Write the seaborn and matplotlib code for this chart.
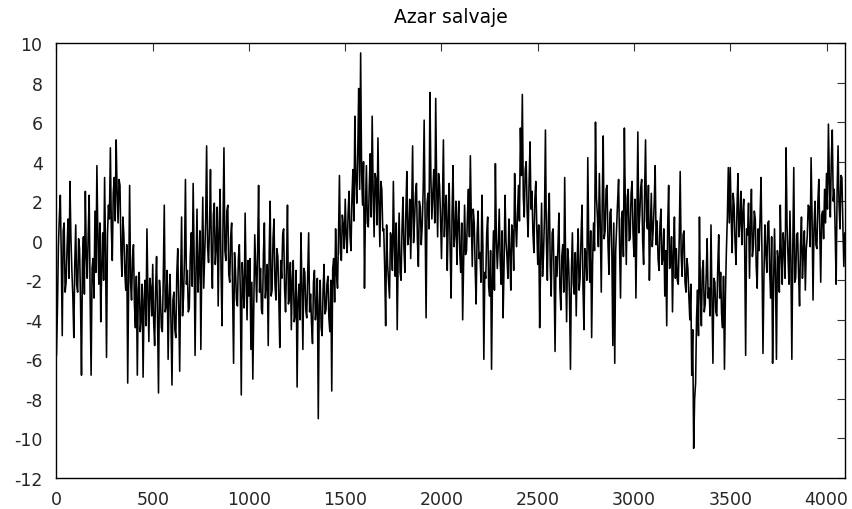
import numpy as np
import pandas as pd
import matplotlib
matplotlib.use("Agg")
import matplotlib.pyplot as plt
import seaborn as sns

title = "Azar salvaje"
x_ticks = [0, 500, 1000, 1500, 2000, 2500, 3000, 3500, 4000]
y_ticks = [-12, -10, -8, -6, -4, -2, 0, 2, 4, 6, 8, 10]
n_samples = 4096

# values, roughly one every 5 samples (one row per 100 samples)
values = [
    -5.8, -3.5, -0.3, 1.2, 2.3, -0.8, -4.8, 0.5, 0.9, -2.6, -2.1, -0.4, 1.1, -1.9, 3.0, 0.2, -1.5, -2.8, -4.9, -1.2,
    0.8, -2.2, -2.6, 0.1, -0.4, -3.1, -6.8, -1.0, 0.2, -2.7, 2.5, -0.8, -1.9, 0.4, 2.3, -3.0, -6.8, -1.4, -0.9, -2.9,
    1.5, -1.6, 3.8, 0.2, -2.2, 0.9, -4.1, -1.3, 0.4, -2.0, 3.2, -0.6, -5.9, 0.3, 1.8, 1.1, 4.7, 0.6, -1.0, 2.4,
    3.2, 1.0, 5.1, 2.5, 0.9, 3.1, 2.8, -0.5, -1.8, 1.2, 0.3, -1.6, -2.5, -0.2, -7.2, -1.9, 2.8, -2.1, -3.0, -0.9,
    -0.2, -3.2, -4.4, -1.8, -6.8, -2.5, -1.6, -4.6, -3.9, -2.2, -6.9, -3.0, -2.0, -4.3, 0.6, -2.7, -5.1, -1.9, -2.4, -3.8,
    -1.2, -4.1, -5.3, -2.4, -0.8, -3.9, -7.7, -2.0, -2.9, -4.4, -4.6, -1.8, 1.8, -3.6, -3.3, -1.5, -6.0, -2.9, -1.7, -4.2,
    -7.3, -3.0, -2.6, -4.5, -4.9, -1.7, -0.4, -3.3, -6.6, -2.1, 1.2, -3.8, -2.8, -0.9, 3.1, -2.2, -1.5, -3.6, -3.4, -0.8,
    0.4, -2.3, 2.9, -0.7, -5.8, -1.5, 1.6, -2.6, -1.3, 0.5, -5.5, -0.9, 2.2, -2.4, -0.6, 1.0, 4.8, -0.3, -1.1, 0.7,
    3.6, -0.8, -2.4, 1.3, 1.9, -1.2, -0.3, 1.7, -3.3, 0.4, 2.6, -1.6, -4.3, 0.8, 4.7, -0.5, -1.0, 1.5, 1.8, -1.7,
    -2.1, 0.2, 0.9, -2.7, -6.2, -0.6, -1.5, -3.0, -3.3, -0.9, -0.2, -2.6, -7.8, -1.1, -2.4, -3.4, 1.4, -1.8, -4.0, -1.0,
    -2.8, -0.9, -5.5, -2.1, -7.0, -3.3, 0.3, -1.4, -3.1, -0.5, 2.8, -2.6, -1.4, -3.5, -3.7, -0.7, 0.9, -2.9, -2.2, -1.2,
    -5.3, -0.6, 2.0, -2.8, -2.5, 0.1, 1.1, -2.2, -3.0, -0.4, -0.8, -2.9, -5.4, -1.0, -1.9, 0.3, 0.6, -2.4, -3.6, -1.3,
    1.8, -3.2, -2.9, -1.1, -4.5, -2.0, -1.0, -4.1, -3.8, -1.5, -7.4, -3.0, -2.2, -4.0, 0.4, -2.3, -5.5, -1.4, -1.6, -3.5,
    -3.9, -1.8, 0.4, -3.6, -2.7, -4.2, -5.2, -2.1, -1.5, -4.0, -3.4, -1.9, -9.0, -3.3, -2.0, -4.4, -4.8, -2.5, -1.2, -3.7,
    -3.5, -2.2, -1.8, -3.9, -4.6, -2.0, -7.6, -1.4, -0.9, -3.1, 0.6, -1.7, -2.4, 0.2, 3.3, -0.6, -1.0, 1.3, 0.8, -0.4,
    2.1, 0.3, -0.6, 1.4, 2.5, 0.2, -0.5, 2.2, 3.6, 1.0, 6.3, 3.1, 1.9, 4.4, 7.7, 2.6, 9.5, 3.5, 1.8, 4.0,
    -2.4, 1.5, 3.8, 0.9, 0.7, 2.8, 4.4, 1.2, 6.3, 2.5, 0.2, 3.4, 3.1, 0.8, 5.2, 1.9, -0.3, 3.0, 2.6, 0.5,
    0.6, -1.4, -4.3, 0.8, -1.2, -2.1, -2.9, 0.4, 0.1, -1.5, 3.0, -0.2, -1.8, 0.9, -4.5, -0.8, 1.4, -1.6, -2.0, 0.6,
    2.2, -0.4, -1.6, 1.5, 3.5, -0.2, 0.3, 2.1, -0.9, 1.4, 4.8, -0.1, 1.0, 2.4, 2.9, 0.0, -1.3, 2.0, 1.7, -0.2,
    0.8, 2.6, 6.1, 1.0, -3.9, 1.9, 2.4, 0.6, 7.5, 3.2, 1.1, 2.4, 3.6, 0.9, 7.2, 2.7, 0.2, 3.4, 2.8, 1.2,
    -0.9, 1.8, 5.1, 0.2, 1.6, 2.3, -1.5, 1.0, 2.9, -0.4, -2.9, 1.4, 3.8, -0.3, 0.4, 2.0, -1.2, 0.9, 2.0, -0.6,
    -1.6, 0.9, -4.0, -1.2, 1.8, -0.7, -0.5, 1.3, 2.6, 0.2, 4.3, 1.0, -1.3, 1.6, 0.9, -1.4, -3.2, 0.3, 1.5, -0.9,
    -0.6, -2.1, 2.3, -0.3, -6.0, -1.6, -1.9, 0.4, 1.2, -2.3, -2.8, -0.5, -6.5, -1.8, 0.5, -2.5, 3.9, 0.1, -1.4, -0.2,
    1.6, -1.0, -2.2, 0.5, -3.9, -1.3, 2.3, 0.0, -0.8, -1.9, 1.1, -0.6, -2.5, 0.8, 0.4, -1.5, 3.4, 0.9, -0.3, 1.4,
    2.8, 1.0, 5.7, 3.3, 7.4, 2.2, 1.2, 3.6, 4.0, 1.5, 0.2, 2.9, 5.0, 1.6, 2.5, 0.4, -0.6, 2.1, 3.0, 0.7,
    -1.2, 0.8, -4.4, -1.0, 1.9, -1.8, -0.7, 1.2, 5.6, 0.0, -2.0, 1.1, 2.4, -1.3, -2.8, 0.4, 0.6, -1.9, -5.6, -0.8,
    -1.8, -0.3, 1.4, -2.4, -3.5, -0.8, -0.2, -2.6, 3.2, -1.2, -4.1, -0.4, -1.0, -2.8, -6.5, -1.5, 0.4, -2.2, -2.7, -0.6,
    -3.8, -1.0, 0.6, -2.5, -1.9, 0.2, 1.8, -2.3, -4.5, -0.4, -0.7, -2.0, 4.2, -0.2, -2.1, 0.5, -4.9, -1.1, 0.9, -0.5,
    6.0, 2.2, 1.2, -0.3, 3.4, 0.8, -2.6, 1.9, 5.3, 0.1, 0.5, 2.6, 2.8, -0.2, -1.7, 1.4, 1.6, -0.6, -5.3, 0.9,
    -6.2, -0.5, 0.8, 2.0, 3.1, -0.2, -2.9, 1.1, 1.5, -0.8, 5.7, 1.8, -1.2, 2.2, 2.6, 0.0, 0.1, 2.4, 3.0, 0.4,
    -0.8, 2.1, -2.9, 0.9, 5.5, 0.4, 1.3, 2.7, 3.1, 0.0, -1.2, 2.3, 5.1, 1.0, 0.6, 2.8, -2.0, 0.6, 2.4, -0.3,
    0.6, 1.9, 3.8, -0.2, 1.0, -0.9, -1.5, 0.8, 1.6, -1.2, -0.9, 0.6, -2.8, -0.5, -4.3, 0.7, 2.8, -1.4, -1.1, 0.2,
    -3.6, -0.6, 1.2, -1.9, -0.4, -2.0, -2.2, 0.1, 3.5, -0.7, -1.8, 0.3, 0.5, -2.1, -2.6, -0.9, -1.4, -2.8, -4.0, -2.2,
    -6.8, -4.5, -10.5, -8.0, -7.2, -3.9, -2.5, -4.8, 1.2, -2.6, -4.3, -1.5, -1.0, -3.6, -3.2, -1.8, 0.1, -2.9, -2.4, -3.8,
    0.8, -3.0, -6.2, -1.9, -2.1, -3.6, -3.8, -1.4, 0.3, -2.9, -1.6, -3.7, -4.4, -1.8, -6.5, -2.7, -0.5, 1.2, 3.7, 0.9,
    3.7, 1.2, -0.6, 2.4, 1.8, -0.1, -1.2, 1.6, 3.4, 0.2, 0.9, 2.5, -0.2, 1.4, 2.1, -0.4, -5.8, 0.6, 0.3, 1.9,
    -1.9, 0.7, 2.6, -0.8, -0.3, 1.5, 1.1, -1.3, -2.4, 0.6, -0.5, 1.2, 3.2, -0.9, -5.7, -1.8, 0.8, -0.6, -1.6, 0.9,
    1.0, -1.6, -2.9, 0.2, -6.2, -2.3, 0.6, -1.8, -6.0, -0.5, -1.1, -2.6, 1.8, -0.7, -2.2, 0.4, -0.4, -1.9, 4.7, 0.8,
    -0.8, -2.2, 1.5, -1.0, -6.0, -0.3, 3.7, -2.1, -1.9, 0.3, 0.4, -1.7, -3.3, -0.2, 1.2, -1.9, -0.6, 0.5, -2.5, -0.4,
    0.2, 1.8, 1.7, -0.3, 4.2, 1.2, -3.0, 0.6, 2.0, -0.2, -0.4, 1.9, 3.1, 0.4, -2.1, 1.3, 1.5, 0.1, 2.6, 0.9,
    3.4, 1.6, 5.9, 3.0, 1.2, 4.1, 5.6, 2.0, 2.6, 0.5, -2.2, 2.4, 4.8, 1.9, 0.6, 3.3, 3.2, 0.8, -1.3, 0.4,
]

sample_index = np.linspace(0, n_samples - 1, len(values))
df = pd.DataFrame({"t": sample_index, "v": values})

sns.set_theme(style="white")
plt.rcParams["font.family"] = ["DejaVu Sans"]

fig, ax = plt.subplots(figsize=(8.53, 5.10), dpi=100)
fig.subplots_adjust(left=0.0662, right=0.9906, bottom=0.0608, top=0.9137)

sns.lineplot(data=df, x="t", y="v", color="black", linewidth=1.15,
             estimator=None, sort=False, ax=ax)

ax.set_xlim(0, n_samples)
ax.set_ylim(-12, 10)
ax.set_xticks(x_ticks)
ax.set_yticks(y_ticks)
ax.set_xticklabels([str(t) for t in x_ticks])
ax.set_yticklabels([str(t) for t in y_ticks])
ax.set_xlabel("")
ax.set_ylabel("")
ax.tick_params(axis="both", direction="in", length=5.8, width=0.8,
               color="#333333", top=True, right=True, labelsize=12.5)
ax.tick_params(axis="x", pad=9)
ax.tick_params(axis="y", pad=10)
for s in ax.spines.values():
    s.set_visible(True)
    s.set_color("black")
    s.set_linewidth(1.0)

ax.set_title(title, fontsize=13.5, pad=15, color="black")

fig.savefig("out.png", dpi=100, facecolor="white")
